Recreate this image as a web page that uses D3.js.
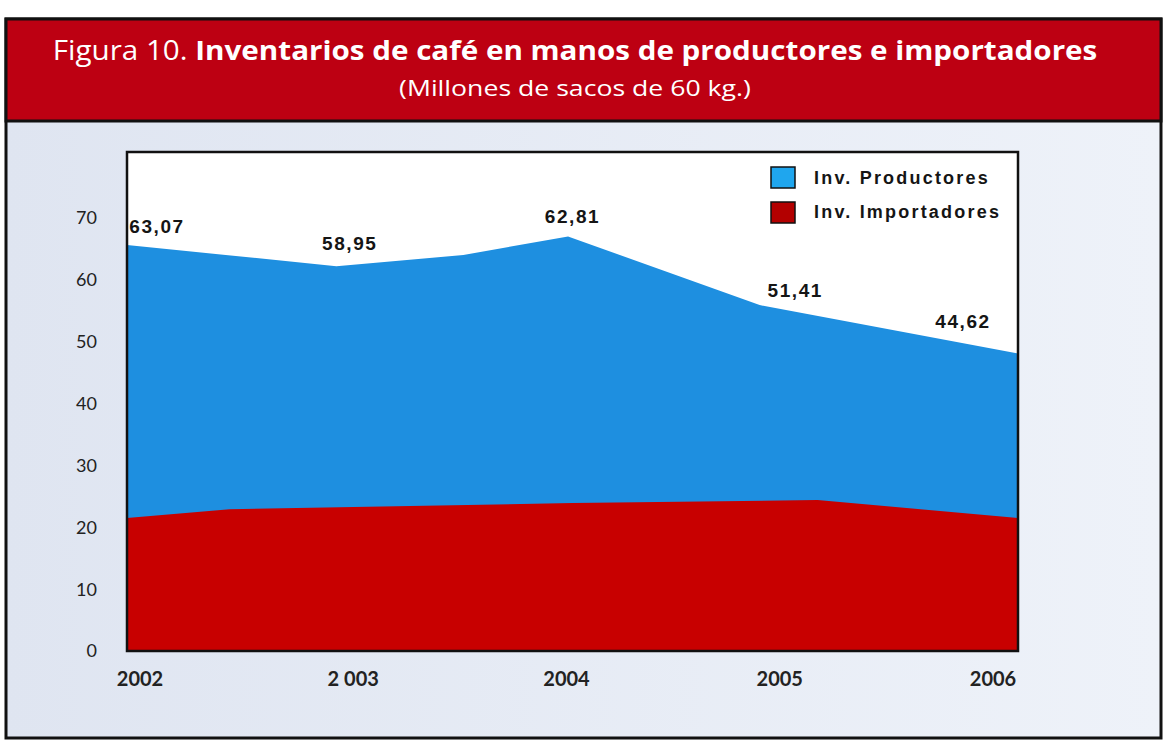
<!DOCTYPE html>
<html>
<head>
    <title>Figura 10</title>
    <script src="https://d3js.org/d3.v7.min.js"></script>
    <style>
        body { margin: 0; background: #fff; }
        svg { display: block; }
    </style>
</head>
<body>
    <div id="chart"></div>
    <script>
        // Values
        const years = [2002, 2003, 2004, 2005, 2006];
        const yearLabels = ["2002", "2 003", "2004", "2005", "2006"];
        const labelValues = [63.07, 58.95, 62.81, 51.41, 44.62];
        // top of the blue area (productores + importadores)
        const totalYears = [2002, 2002.94, 2003.51, 2003.98, 2004.84, 2006];
        const totalValues = [65.6, 62.2, 64.0, 67.0, 55.9, 48.1];
        // top of the red area (importadores)
        const importYears = [2002, 2002.46, 2004.0, 2005.1, 2006];
        const importValues = [21.5, 22.9, 23.9, 24.4, 21.5];
        const yTicks = [0, 10, 20, 30, 40, 50, 60, 70];
        const seriesNames = ["Inv. Productores", "Inv. Importadores"];
        const seriesColors = ["#1e8fe0", "#c80000"];
        const legendColors = ["#1fa6ee", "#b30000"];

        const W = 1166, H = 741;
        const plot = { left: 127, right: 1018, top: 152, bottom: 651 };

        const svg = d3.select("#chart").append("svg")
            .attr("width", W)
            .attr("height", H);

        const defs = svg.append("defs");
        const grad = defs.append("linearGradient").attr("id", "panel")
            .attr("x1", 0).attr("x2", 1).attr("y1", 0).attr("y2", 0);
        grad.append("stop").attr("offset", 0).attr("stop-color", "#dfe5f1");
        grad.append("stop").attr("offset", 1).attr("stop-color", "#eef2f9");

        // outer frame + panel
        svg.append("rect")
            .attr("x", 6).attr("y", 19).attr("width", 1155).attr("height", 719)
            .attr("fill", "url(#panel)")
            .attr("stroke", "#111").attr("stroke-width", 3);

        // title bar
        svg.append("rect")
            .attr("x", 6).attr("y", 19).attr("width", 1155).attr("height", 102)
            .attr("fill", "#bd0012")
            .attr("stroke", "#111").attr("stroke-width", 3);

        const title = svg.append("text")
            .attr("x", 575).attr("y", 60)
            .attr("text-anchor", "middle")
            .attr("fill", "#fff")
            .style("font-family", "'Open Sans', sans-serif")
            .style("font-size", "27px");
        title.append("tspan").text("Figura 10. ");
        title.append("tspan").attr("font-weight", 700)
            .text("Inventarios de café en manos de productores e importadores");

        const subtitle = svg.append("text")
            .attr("x", 575).attr("y", 96)
            .attr("text-anchor", "middle")
            .attr("fill", "#fff")
            .style("font-family", "'Open Sans', sans-serif")
            .style("font-size", "22px")
            .text("(Millones de sacos de 60 kg.)");

        // squeeze text horizontally to the reference width (narrow face)
        function fitWidth(sel, target) {
            const w = sel.node().getComputedTextLength();
            const cx = +sel.attr("x");
            sel.attr("transform", `translate(${cx},0) scale(${target / w},1) translate(${-cx},0)`);
        }
        fitWidth(title, 1045);
        fitWidth(subtitle, 352);

        // scales
        const x = d3.scaleLinear().domain([2002, 2006]).range([plot.left, plot.right]);
        const y = d3.scaleLinear().domain([0, 80]).range([plot.bottom, plot.bottom - 495]);
        const xLab = d3.scalePoint().domain(years).range([140, 993]);

        const g = svg.append("g");

        // plot background
        g.append("rect")
            .attr("x", plot.left).attr("y", plot.top)
            .attr("width", plot.right - plot.left).attr("height", plot.bottom - plot.top)
            .attr("fill", "#fff");

        const totalData = totalYears.map((d, i) => [d, totalValues[i]]);
        const importData = importYears.map((d, i) => [d, importValues[i]]);

        const area = d3.area()
            .x(d => x(d[0]))
            .y0(y(0))
            .y1(d => y(d[1]));

        g.append("path").datum(totalData)
            .attr("d", area)
            .attr("fill", seriesColors[0]);

        g.append("path").datum(importData)
            .attr("d", area)
            .attr("fill", seriesColors[1]);

        // plot frame
        g.append("rect")
            .attr("x", plot.left).attr("y", plot.top)
            .attr("width", plot.right - plot.left).attr("height", plot.bottom - plot.top)
            .attr("fill", "none")
            .attr("stroke", "#111").attr("stroke-width", 2.5);

        // y axis labels
        g.selectAll(".ytick").data(yTicks).enter().append("text")
            .attr("class", "ytick")
            .attr("x", 97)
            .attr("y", d => y(d))
            .attr("dy", "0.36em")
            .attr("text-anchor", "end")
            .attr("fill", "#222")
            .style("font-family", "Lato, sans-serif")
            .style("font-size", "18px")
            .text(d => d);

        // x axis labels
        g.selectAll(".xtick").data(years).enter().append("text")
            .attr("class", "xtick")
            .attr("x", d => xLab(d))
            .attr("y", 686)
            .attr("text-anchor", "middle")
            .attr("fill", "#222")
            .style("font-family", "Lato, sans-serif")
            .style("font-weight", 700)
            .style("font-size", "20px")
            .text((d, i) => yearLabels[i]);

        // value labels sit just above the blue edge
        function totalAt(yr) {
            const i = Math.max(1, d3.bisectLeft(totalYears, yr));
            const t = (yr - totalYears[i - 1]) / (totalYears[i] - totalYears[i - 1]);
            return totalValues[i - 1] + t * (totalValues[i] - totalValues[i - 1]);
        }
        const fmt = v => d3.format(".2f")(v).replace(".", ",");
        g.selectAll(".vlabel").data(years).enter().append("text")
            .attr("class", "vlabel")
            .each(function(d, i) {
                const cx = Math.max(plot.left + 30, Math.min(plot.right - 55, x(d)));
                d3.select(this)
                    .attr("x", cx)
                    .attr("y", y(totalAt(x.invert(cx))) - 15)
                    .text(fmt(labelValues[i]));
            })
            .attr("text-anchor", "middle")
            .attr("fill", "#151515")
            .style("font-family", "'Liberation Sans', Arial, sans-serif")
            .style("font-weight", 700)
            .style("font-size", "19px")
            .style("letter-spacing", "1.6px");

        // legend
        const legend = g.append("g").attr("transform", "translate(771,167)");
        seriesNames.forEach((name, i) => {
            legend.append("rect")
                .attr("x", 0).attr("y", i * 35)
                .attr("width", 24).attr("height", 21)
                .attr("fill", legendColors[i])
                .attr("stroke", "#111").attr("stroke-width", 1.5);
            legend.append("text")
                .attr("x", 43).attr("y", i * 34 + 17)
                .attr("fill", "#151515")
                .style("font-family", "'Liberation Sans', Arial, sans-serif")
                .style("font-weight", 700)
                .style("font-size", "18px")
                .style("letter-spacing", "2.2px")
                .text(name);
        });
    </script>
</body>
</html>
